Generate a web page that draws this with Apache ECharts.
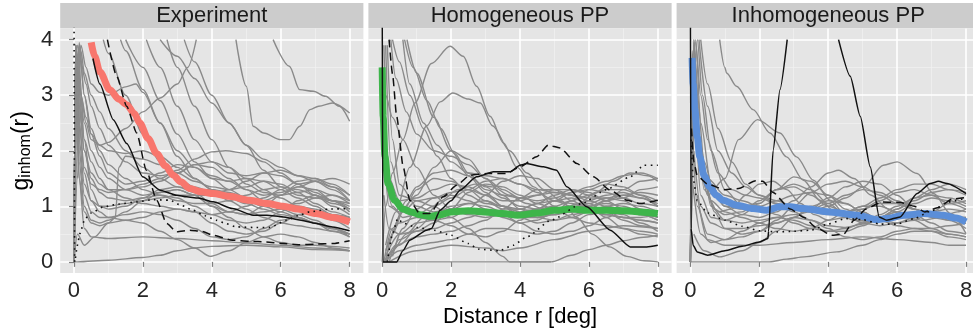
<!DOCTYPE html>
<html><head><meta charset="utf-8">
<script src="https://cdn.jsdelivr.net/npm/echarts@6/dist/echarts.min.js"></script>
<style>html,body{margin:0;padding:0;background:#fff}#c{width:973px;height:333px}</style>
</head><body><div id="c"></div>
<script>
// ---------------- labels & ticks ----------------
const panelTitles = ['Experiment', 'Homogeneous PP', 'Inhomogeneous PP'];
const xTitle = 'Distance r [deg]';
const xTicks = [0, 2, 4, 6, 8];
const xMinor = [1, 3, 5, 7];
const yTicks = [0, 1, 2, 3, 4];
const yMinor = [0.5, 1.5, 2.5, 3.5];
const meanColors = ['#F8766D', '#3DB54A', '#5B8ED8'];

// ---------------- data: flat [r, g, r, g, ...] ----------------
// Panel 1: Experiment
const expMean = [0.5,3.95, 0.6,3.7, 0.75,3.42, 1.04,3.1, 1.3,2.93, 1.53,2.83, 1.75,2.67, 1.91,2.5, 2.15,2.22, 2.4,1.95, 2.65,1.73, 2.88,1.56, 3.1,1.44, 3.36,1.32, 3.7,1.26, 4.04,1.23, 4.5,1.18, 5.1,1.11, 5.6,1.05, 6.07,1.0, 6.5,0.95, 7.03,0.87, 7.5,0.8, 8,0.72];
const expSolid = [0.55,3.66, 0.75,3.2, 1.14,2.56, 1.53,2.13, 2.0,1.53, 2.5,1.29, 2.98,1.2, 3.27,1.17, 3.6,1.15, 4.04,1.08, 4.6,0.96, 5.2,0.84, 5.6,0.84, 6.07,0.81, 6.5,0.76, 7.03,0.69, 7.5,0.63, 8,0.56];
const expDashed = [0.97,4.0, 1.24,3.34, 1.53,2.8, 1.82,2.32, 2.1,1.65, 2.4,1.11, 2.69,0.69, 2.98,0.54, 3.36,0.57, 3.7,0.55, 4.04,0.48, 4.6,0.39, 5.1,0.37, 5.58,0.36, 6.05,0.33, 6.55,0.31, 7.0,0.32, 7.5,0.33, 8,0.38];
const expDotted = [0,5, 0.02,0, 0.1,0.3, 0.17,0.51, 0.32,0.78, 0.5,0.88, 0.85,0.99, 1.3,1.04, 1.82,1.08, 2.3,1.12, 2.78,1.11, 3.1,1.02, 3.46,0.93, 3.8,0.83, 4.13,0.75, 4.4,0.69, 4.71,0.63, 5.2,0.62, 5.68,0.62, 6.17,0.75, 6.5,0.83, 6.84,0.9, 7.4,0.95, 8,0.96];
const expGray = [
  [0,0, 0.05,3.9, 0.15,3.2, 0.3,2.5, 0.5,2.0, 0.75,1.7, 1,1.5, 1.5,1.3, 2,1.2, 2.5,1.25, 3,1.3, 3.5,1.2, 4,1.0, 4.5,0.9, 5,0.85, 5.5,0.9, 6,0.95, 6.5,1.0, 7,0.95, 7.5,0.85, 8,0.8],
  [0,0, 0.08,2.5, 0.15,3.95, 0.3,3.0, 0.5,2.3, 0.75,1.9, 1,1.6, 1.5,1.4, 2,1.45, 2.5,1.6, 3,1.75, 3.5,1.7, 4,1.5, 4.5,1.3, 5,1.15, 5.5,1.1, 6,1.2, 6.5,1.4, 7,1.45, 7.5,1.3, 8,1.1],
  [0,0, 0.05,3.8, 0.15,2.8, 0.3,2.0, 0.5,1.5, 0.75,1.25, 1,1.15, 1.5,1.1, 2,1.15, 2.5,1.2, 3,1.15, 3.5,1.0, 4,0.85, 4.5,0.75, 5,0.7, 5.5,0.75, 6,0.9, 6.5,1.1, 7,1.2, 7.5,1.1, 8,0.95],
  [0,0, 0.1,3.9, 0.2,3.6, 0.35,3.2, 0.5,2.8, 0.75,2.4, 1,2.1, 1.5,1.8, 2,1.6, 2.5,1.55, 3,1.6, 3.5,1.75, 4,1.8, 4.5,1.7, 5,1.5, 5.5,1.3, 6,1.15, 6.5,1.0, 7,0.9, 7.5,0.85, 8,0.8],
  [0,0, 0.05,3.9, 0.15,3.5, 0.3,2.2, 0.5,1.3, 0.75,1.0, 1,0.95, 1.5,1.0, 2,1.15, 2.5,1.3, 3,1.35, 3.5,1.25, 4,1.05, 4.5,0.9, 5,0.85, 5.5,1.0, 6,1.2, 6.5,1.35, 7,1.3, 7.5,1.1, 8,0.9],
  [0,0, 0.1,2.0, 0.2,3.8, 0.3,3.4, 0.5,3.0, 0.75,2.7, 1,2.4, 1.5,2.0, 2,1.7, 2.5,1.5, 3,1.35, 3.5,1.3, 4,1.3, 4.5,1.25, 5,1.15, 5.5,1.05, 6,1.0, 6.5,1.05, 7,1.15, 7.5,1.2, 8,1.1],
  [0,0, 0.05,3.9, 0.15,2.5, 0.3,1.6, 0.5,1.1, 0.75,0.9, 1,0.8, 1.5,0.75, 2,0.8, 2.5,0.9, 3,0.95, 3.5,0.9, 4,0.7, 4.5,0.55, 5,0.5, 5.5,0.55, 6,0.7, 6.5,0.85, 7,0.9, 7.5,0.75, 8,0.6],
  [0,0, 0.1,3.7, 0.2,3.0, 0.35,2.6, 0.5,2.3, 0.75,2.1, 1,2.0, 1.5,1.95, 2,2.0, 2.5,1.9, 3,1.7, 3.5,1.5, 4,1.3, 4.5,1.1, 5,0.95, 5.5,0.8, 6,0.7, 6.5,0.65, 7,0.6, 7.5,0.55, 8,0.5],
  [0,0, 0.1,3.0, 0.2,3.9, 0.35,3.5, 0.5,3.2, 0.75,3.05, 1,3.0, 1.5,3.15, 1.8,3.2, 2,3.05, 2.5,2.5, 3,1.9, 3.5,1.5, 4,1.3, 4.5,1.2, 5,1.1, 5.5,1.0, 6,0.9, 6.5,0.8, 7,0.7, 7.5,0.6, 8,0.5],
  [0.85,4.0, 1,3.75, 1.5,3.0, 2,2.3, 2.5,1.8, 3,1.5, 3.5,1.35, 4,1.25, 4.5,1.15, 5,1.05, 5.5,0.95, 6,0.85, 6.5,0.8, 7,0.7, 7.5,0.6, 8,0.5],
  [1.35,4.0, 1.5,3.8, 2,3.1, 2.5,2.5, 3,2.0, 3.5,1.7, 4,1.55, 4.5,1.45, 5,1.3, 5.5,1.1, 6,0.95, 6.5,0.85, 7,0.75, 7.5,0.6, 8,0.45],
  [1.5,4.0, 2,3.5, 2.5,2.9, 3,2.3, 3.5,1.8, 4,1.5, 4.5,1.45, 5,1.5, 5.5,1.45, 6,1.3, 6.5,1.15, 7,1.0, 7.5,0.85, 8,0.7],
  [2.1,4.0, 2.5,3.5, 3,2.8, 3.5,2.2, 4,1.8, 4.5,1.6, 5,1.55, 5.5,1.6, 6,1.55, 6.5,1.4, 7,1.25, 7.5,1.1, 8,1.0],
  [2.5,4.0, 3,3.7, 3.5,3.3, 4,2.86, 4.5,2.5, 5,2.1, 5.5,1.65, 6,1.35, 6.5,1.2, 7,1.15, 7.5,1.1, 8,1.05],
  [2.7,4.0, 3,3.5, 3.5,2.8, 4,2.2, 4.5,1.7, 5,1.4, 5.5,1.25, 6,1.2, 6.5,1.25, 7,1.3, 7.5,1.2, 8,1.05],
  [3.2,4.0, 3.5,3.6, 4,3.0, 4.5,2.5, 5,2.1, 5.5,1.85, 6,1.7, 6.5,1.55, 7,1.45, 7.5,1.35, 8,1.2],
  [0,0, 0.1,1.5, 0.2,3.0, 0.35,2.5, 0.5,2.2, 0.75,2.1, 1,2.15, 1.5,2.4, 2,2.7, 2.5,2.95, 3,3.2, 3.3,3.5, 3.55,4.0],
  [0,0, 0.05,3.9, 0.15,2.5, 0.3,1.7, 0.5,1.4, 0.75,1.3, 1,1.25, 1.5,1.3, 2,1.4, 2.5,1.5, 3,1.65, 3.5,1.85, 4,1.98, 4.4,2.0, 5,1.95, 5.5,1.8, 6,1.6, 6.5,1.4, 7,1.2, 7.5,1.0, 8,0.85],
  [0,0, 0.05,3.8, 0.15,2.2, 0.3,1.4, 0.5,1.1, 0.75,1.0, 1,1.0, 1.5,1.05, 2,1.1, 2.5,1.15, 3,1.2, 3.5,1.2, 4,1.2, 4.5,1.3, 5,1.45, 5.5,1.6, 6,1.65, 6.5,1.55, 7,1.5, 7.5,1.35, 8,1.1],
  [0,0, 0.05,3.5, 0.15,2.8, 0.3,2.0, 0.5,1.6, 0.75,1.4, 1,1.3, 1.5,1.3, 2,1.35, 2.5,1.45, 3,1.6, 3.5,1.75, 4,1.7, 4.5,1.5, 5,1.3, 5.5,1.2, 6,1.25, 6.5,1.35, 7,1.45, 7.5,1.5, 8,1.4],
  [0,0, 0.05,3.9, 0.15,3.0, 0.3,2.2, 0.5,1.8, 0.75,1.5, 1,1.3, 1.5,1.15, 2,1.05, 2.5,1.0, 3,0.95, 3.5,0.9, 4,0.85, 4.5,0.9, 5,1.0, 5.5,1.15, 6,1.3, 6.5,1.45, 7,1.5, 7.5,1.4, 8,1.2],
  [0,0, 0.1,3.2, 0.15,3.9, 0.3,3.0, 0.5,2.4, 0.75,2.0, 1,1.75, 1.5,1.5, 2,1.3, 2.5,1.2, 3,1.1, 3.5,1.05, 4,1.05, 4.5,1.1, 5,1.2, 5.5,1.3, 6,1.35, 6.5,1.3, 7,1.2, 7.5,1.05, 8,0.95],
  [4.7,4.0, 5,3.16, 5.2,2.44, 5.5,2.32, 6,2.2, 6.25,2.2, 6.55,2.44, 6.85,2.74, 7.1,2.8, 7.5,2.86, 8,2.68],
  [5.78,4.0, 6.25,3.52, 6.55,3.1, 6.95,3.07, 7.3,2.98, 7.7,2.8, 8,2.53],
  [0,0, 0.1,0, 1,0.03, 2,0.08, 2.5,0.12, 3,0.2, 3.5,0.25, 4,0.28, 5,0.3, 6,0.27, 7,0.22, 8,0.2],
  [0,0, 0.05,3.9, 0.15,1.5, 0.3,0.6, 0.5,0.45, 1,0.42, 2,0.45, 3,0.42, 4,0.38, 5,0.34, 6,0.3, 7,0.25, 8,0.2],
  [0,0, 0.1,0.5, 0.3,0.3, 0.6,0.45, 1,0.7, 1.2,0.8, 1.3,1.7, 1.5,1.9, 2,1.85, 2.5,1.75, 3,1.6, 3.5,1.45, 4,1.35, 4.5,1.3, 5,1.35, 5.5,1.45, 6,1.4, 6.5,1.25, 7,1.05, 7.5,0.9, 8,0.8],
  [0,0, 0.05,3.9, 0.15,2.0, 0.3,1.2, 0.5,0.9, 0.75,0.8, 1,0.8, 1.5,0.85, 2,0.9, 2.5,0.85, 3,0.75, 3.5,0.6, 4,0.45, 4.5,0.4, 5,0.45, 5.5,0.6, 6,0.75, 6.5,0.8, 7,0.7, 7.5,0.55, 8,0.45],
  [0,0, 0.05,3.6, 0.15,1.8, 0.3,1.0, 0.5,0.75, 0.75,0.7, 1,0.75, 1.5,0.9, 2,1.1, 2.5,1.25, 3,1.3, 3.5,1.2, 4,1.0, 4.5,0.8, 5,0.6, 5.5,0.45, 6,0.35, 6.5,0.3, 7,0.3, 7.5,0.28, 8,0.25],
  [0,0, 0.05,3.0, 0.15,1.5, 0.3,0.9, 0.5,0.7, 0.75,0.65, 1,0.7, 1.5,0.75, 2,0.7, 2.5,0.55, 3,0.4, 3.5,0.25, 3.95,0.1, 4.5,0.2, 5,0.35, 5.5,0.45, 6,0.5, 6.5,0.45, 7,0.35, 7.5,0.25, 8,0.2]
];

// Panel 2: Homogeneous PP
const homMean = [0,3.5, 0.03,2.6, 0.08,1.9, 0.17,1.41, 0.36,1.11, 0.6,0.95, 0.84,0.9, 1.1,0.85, 1.42,0.82, 1.7,0.85, 2.0,0.9, 2.5,0.92, 2.97,0.9, 3.5,0.87, 3.94,0.84, 4.5,0.88, 5.01,0.93, 5.5,0.95, 5.98,0.93, 6.5,0.93, 7.04,0.92, 7.5,0.9, 8,0.87];
const homSolid = [0,5, 0.02,0, 0.42,0, 0.6,0.2, 0.8,0.39, 1.29,0.57, 1.43,0.6, 1.68,0.93, 2.0,1.1, 2.26,1.29, 2.74,1.53, 3.23,1.62, 3.71,1.62, 4.0,1.74, 4.19,1.77, 4.68,1.71, 5.06,1.65, 5.36,1.35, 5.94,0.99, 6.62,0.57, 7.2,0.27, 7.68,0.27, 8,0.3];
const homDashed = [0.2,4.0, 0.3,3.38, 0.42,2.62, 0.61,1.71, 0.8,1.11, 1.09,0.87, 1.38,0.87, 1.77,1.17, 2.16,1.38, 2.55,1.56, 3.03,1.59, 3.61,1.59, 4.0,1.71, 4.48,1.89, 4.82,2.1, 5.16,2.05, 5.65,1.77, 6.13,1.53, 6.62,1.29, 7.1,1.11, 7.49,1.05, 8,1.11];
const homDotted = [0.15,0, 0.3,0.5, 0.45,0.78, 0.6,0.7, 1,0.62, 1.5,0.57, 2,0.48, 2.5,0.33, 2.8,0.23, 3.4,0.2, 3.8,0.3, 4.2,0.45, 4.9,0.75, 5.8,1.05, 6.5,1.3, 7.2,1.53, 7.6,1.74, 8,1.74];
const homGray = [
  [0,0, 0.1,1.0, 0.3,1.6, 0.6,2.2, 0.95,2.86, 1.43,3.57, 1.97,3.88, 2.35,3.7, 2.74,3.16, 3.13,2.62, 3.52,2.14, 3.9,1.71, 4.4,1.35, 5.0,1.0, 5.5,0.8, 6,0.7, 6.5,0.65, 7,0.6, 7.5,0.55, 8,0.5],
  [0.1,0.3, 0.4,0.9, 0.8,1.7, 1.3,2.45, 1.68,2.88, 2.05,3.04, 2.5,2.93, 2.85,2.86, 3.2,2.45, 3.7,2.0, 4.2,1.6, 4.7,1.3, 5.2,1.1, 5.65,0.8, 6.1,0.5, 6.6,0.27, 7.1,0.1, 7.6,0.02, 8,0],
  [0.05,2.0, 0.2,1.0, 0.5,0.9, 1,1.2, 1.5,1.7, 2,2.0, 2.5,1.85, 3,1.5, 3.5,1.2, 4,0.95, 4.5,0.8, 5,0.75, 5.5,0.8, 6,0.9, 6.5,1.0, 7,1.05, 7.5,1.0, 8,0.9],
  [0.3,4.0, 0.5,3.6, 0.8,3.0, 1.2,2.4, 1.6,1.9, 2,1.5, 2.5,1.2, 3,1.05, 3.5,1.0, 4,0.95, 4.5,0.9, 5,0.85, 5.5,0.9, 6,1.0, 6.5,1.05, 7,1.0, 7.5,0.9, 8,0.8],
  [0.65,4.0, 0.9,3.5, 1.3,2.9, 1.7,2.4, 2.1,1.95, 2.5,1.6, 3,1.3, 3.5,1.2, 4,1.15, 4.5,1.2, 5,1.25, 5.5,1.2, 6,1.1, 6.5,1.0, 7,0.95, 7.5,0.85, 8,0.75],
  [0.72,4.0, 1.0,3.4, 1.5,2.6, 2,2.0, 2.5,1.55, 3,1.25, 3.5,1.0, 4,0.85, 4.5,0.8, 5,0.85, 5.5,0.95, 6,1.1, 6.5,1.2, 7,1.25, 7.5,1.15, 8,1.0],
  [0.25,4.0, 0.4,3.3, 0.7,2.7, 1.0,2.3, 1.5,2.0, 2,1.9, 2.5,1.75, 3,1.5, 3.5,1.3, 4,1.15, 4.5,1.1, 5,1.15, 5.5,1.25, 6,1.3, 6.5,1.25, 7,1.15, 7.5,1.05, 8,1.0],
  [0.05,3.9, 0.1,3.0, 0.3,2.6, 0.6,2.2, 1,1.7, 1.5,1.2, 2,0.95, 2.5,0.85, 3,0.8, 3.5,0.85, 4,0.95, 4.5,1.05, 5,1.1, 5.5,1.05, 6,0.95, 6.5,0.85, 7,0.8, 7.5,0.75, 8,0.7],
  [0.6,4.0, 0.8,3.2, 1.2,2.5, 1.6,2.1, 2.0,1.8, 2.5,1.6, 3,1.55, 3.5,1.5, 4,1.4, 4.5,1.3, 5,1.25, 5.5,1.2, 6,1.15, 6.5,1.15, 7,1.2, 7.5,1.25, 8,1.2],
  [0,0, 4.9,0, 5.5,0.12, 6,0.22, 6.5,0.3, 7,0.38, 7.5,0.44, 8,0.48],
  [0.1,0, 0.3,0.5, 0.6,0.9, 1,1.1, 1.5,1.0, 2,0.8, 2.5,0.6, 3,0.35, 3.5,0.1, 3.7,0, 4.9,0],
  [0.2,0, 0.5,0.4, 1,0.55, 1.5,0.6, 2,0.7, 2.5,0.8, 3,0.9, 3.5,0.85, 4,0.7, 4.5,0.55, 5,0.5, 5.5,0.55, 6,0.65, 6.5,0.8, 7,0.9, 7.5,0.85, 8,0.75],
  [0.1,0.2, 0.5,0.7, 1,0.8, 1.5,0.75, 2,0.65, 2.5,0.5, 3,0.45, 3.5,0.55, 4,0.75, 4.5,0.95, 5,1.1, 5.5,1.15, 6,1.05, 6.5,0.9, 7,0.75, 7.5,0.65, 8,0.6],
  [0.3,0.1, 0.6,0.6, 1,0.95, 1.5,1.15, 2,1.2, 2.5,1.1, 3,0.95, 3.5,0.8, 4,0.7, 4.5,0.75, 5,0.9, 5.5,1.1, 6,1.3, 6.5,1.4, 7,1.35, 7.5,1.2, 8,1.0],
  [0.05,1.2, 0.2,0.6, 0.5,0.5, 1,0.55, 1.5,0.7, 2,0.95, 2.5,1.25, 3,1.4, 3.5,1.35, 4,1.2, 4.5,1.05, 5,0.95, 5.5,0.9, 6,0.95, 6.5,1.1, 7,1.3, 7.5,1.45, 8,1.5],
  [0.1,0, 0.4,0.3, 1,0.45, 1.5,0.5, 2,0.55, 2.5,0.65, 3,0.75, 3.5,0.95, 4,1.15, 4.5,1.3, 5,1.3, 5.5,1.2, 6,1.0, 6.5,0.8, 7,0.6, 7.5,0.5, 8,0.45],
  [0.05,0, 0.3,0.2, 0.7,0.5, 1.2,0.8, 1.7,1.1, 2.2,1.3, 2.7,1.4, 3.2,1.35, 3.7,1.2, 4.2,1.05, 4.7,0.95, 5.2,0.95, 5.7,1.05, 6.2,1.25, 6.7,1.45, 7.2,1.6, 7.7,1.55, 8,1.45],
  [0.1,0, 0.5,0.2, 1,0.3, 1.5,0.35, 2,0.4, 2.5,0.5, 3,0.6, 3.5,0.6, 4,0.55, 4.5,0.5, 5,0.55, 5.5,0.7, 6,0.85, 6.5,0.9, 7,0.85, 7.5,0.7, 8,0.55],
  [0.2,0, 1,0.2, 2,0.3, 3,0.25, 3.5,0.2, 4,0.25, 5,0.4, 6,0.55, 7,0.65, 8,0.6],
  [0.15,3.9, 0.3,2.2, 0.5,1.4, 1,1.0, 1.5,0.9, 2,0.95, 2.5,1.05, 3,1.1, 3.5,1.0, 4,0.9, 4.5,0.95, 5,1.1, 5.5,1.25, 6,1.35, 6.5,1.45, 7,1.55, 7.5,1.6, 8,1.5],
  [0.05,3.0, 0.2,1.5, 0.5,1.1, 1,1.15, 1.5,1.3, 2,1.4, 2.5,1.35, 3,1.2, 3.5,1.1, 4,1.1, 4.5,1.2, 5,1.3, 5.5,1.3, 6,1.2, 6.5,1.1, 7,1.15, 7.5,1.3, 8,1.35],
  [0.1,1.5, 0.3,1.0, 0.6,0.8, 1,0.85, 1.5,1.0, 2,1.15, 2.5,1.3, 3,1.45, 3.5,1.5, 4,1.4, 4.5,1.25, 5,1.1, 5.5,1.0, 6,1.0, 6.5,1.1, 7,1.2, 7.5,1.15, 8,1.05],
  [0.1,3.9, 0.25,1.8, 0.5,1.2, 1,1.1, 1.5,1.15, 2,1.25, 2.5,1.3, 3,1.2, 3.5,1.0, 4,0.8, 4.5,0.7, 5,0.75, 5.5,0.85, 6,0.9, 6.5,0.85, 7,0.8, 7.5,0.8, 8,0.85],
  [0.2,0.3, 0.6,0.9, 1,1.3, 1.5,1.5, 2,1.45, 2.5,1.3, 3,1.1, 3.5,0.95, 4,0.95, 4.5,1.05, 5,1.2, 5.5,1.3, 6,1.25, 6.5,1.1, 7,0.95, 7.5,0.85, 8,0.8],
  [0.1,0.1, 0.5,0.5, 1,0.7, 1.5,0.75, 2,0.8, 2.5,0.95, 3,1.2, 3.5,1.45, 4,1.55, 4.5,1.5, 5,1.3, 5.5,1.1, 6,0.95, 6.5,0.85, 7,0.8, 7.5,0.75, 8,0.7],
  [0.05,0, 0.3,0.6, 0.7,1.1, 1,1.35, 1.5,1.6, 2,1.65, 2.5,1.55, 3,1.35, 3.5,1.15, 4,1.0, 4.5,0.95, 5,1.0, 5.5,1.1, 6,1.2, 6.5,1.3, 7,1.3, 7.5,1.2, 8,1.1],
  [0.1,0, 0.5,0.3, 1,0.6, 1.5,0.85, 2,1.0, 2.5,1.05, 3,1.0, 3.5,0.9, 4,0.8, 4.5,0.8, 5,0.85, 5.5,0.95, 6,1.05, 6.5,1.15, 7,1.1, 7.5,0.95, 8,0.8]
];

// Panel 3: Inhomogeneous PP
const inhMean = [0.05,3.67, 0.08,3.2, 0.13,2.74, 0.2,2.25, 0.27,1.89, 0.4,1.55, 0.56,1.35, 0.75,1.2, 0.95,1.11, 1.34,1.02, 1.82,0.96, 2.21,0.93, 2.6,0.99, 2.9,0.99, 3.28,0.96, 4.05,0.9, 4.83,0.84, 5.41,0.76, 5.7,0.78, 6.19,0.84, 6.77,0.87, 7.35,0.84, 7.7,0.79, 8,0.72];
const inhSolid = [0,5, 0.02,0.6, 0.08,0.3, 0.2,0.18, 0.5,0.12, 1,0.2, 1.5,0.28, 2,0.36, 2.25,0.42, 2.27,0.55, 2.4,2.0, 2.6,3.1, 2.81,4.0, 3.5,null, 4.3,4.0, 4.64,3.34, 4.93,2.62, 5.22,1.71, 5.48,0.81, 5.7,0.75, 6.09,0.81, 6.58,1.23, 6.96,1.41, 7.2,1.45, 7.45,1.41, 8,1.23];
const inhDashed = [0.03,2.4, 0.1,1.8, 0.2,1.55, 0.5,1.4, 1.0,1.3, 1.4,1.32, 1.9,1.46, 2.1,1.45, 2.4,1.25, 2.9,0.95, 3.3,0.8, 3.65,0.62, 4.1,0.48, 4.45,0.5, 4.75,0.75, 5.1,0.95, 5.55,1.08, 6.1,1.07, 6.5,1.0, 6.8,0.9, 7.2,0.98, 7.6,1.13, 8,1.16];
const inhDotted = [0.02,2.2, 0.08,1.5, 0.2,1.1, 0.5,0.88, 1.0,0.75, 1.5,0.64, 2.0,0.56, 2.5,0.54, 3.0,0.55, 3.5,0.57, 4.0,0.68, 4.5,0.78, 5.0,0.76, 5.5,0.68, 6.0,0.68, 6.5,0.78, 7.0,0.92, 7.5,1.08, 8,1.15];
const inhGray = [
  [0.85,4.0, 1.0,3.5, 1.05,3.4, 1.34,3.16, 1.82,2.74, 2.31,2.32, 2.79,1.89, 3.28,1.47, 3.76,1.11, 4.25,0.87, 4.75,0.75, 5.25,0.72, 5.75,0.75, 6.25,0.8, 6.75,0.85, 7.25,0.85, 7.75,0.8, 8,0.78],
  [0,0, 0.05,3.8, 0.2,2.0, 0.5,1.2, 1.0,1.5, 1.4,2.2, 1.95,2.56, 2.6,2.32, 3.08,1.89, 3.57,1.47, 4.05,1.11, 4.5,0.85, 5,0.7, 5.5,0.65, 6,0.7, 6.5,0.8, 7,0.9, 7.5,0.95, 8,0.9],
  [0,0, 0.1,3.9, 0.3,2.0, 0.6,1.0, 1,0.75, 1.5,0.7, 2,0.75, 2.5,0.8, 3,0.85, 3.5,0.9, 4,1.0, 4.5,1.15, 5.02,1.35, 5.6,1.74, 6.0,1.8, 6.58,1.59, 7.06,1.23, 7.55,0.87, 8,0.51],
  [0,0, 2.3,0, 2.8,0.05, 3.3,0.09, 4.25,0.18, 5,0.3, 5.5,0.4, 6,0.5, 6.5,0.55, 7,0.55, 7.5,0.5, 8,0.45],
  [0.1,0.5, 0.4,0.2, 0.85,0.09, 1.5,0.2, 2,0.35, 2.5,0.55, 3,0.8, 3.5,1.0, 4,1.1, 4.5,1.05, 5,0.9, 5.5,0.75, 6,0.65, 6.5,0.6, 7,0.6, 7.5,0.65, 8,0.7],
  [0,0, 0.15,4.0, 0.3,2.5, 0.6,1.4, 1,1.0, 1.5,0.85, 2,0.8, 2.5,0.9, 3,1.1, 3.5,1.35, 4,1.6, 4.3,1.65, 4.75,1.5, 5.25,1.2, 5.75,0.95, 6.25,0.8, 6.75,0.75, 7.25,0.8, 7.75,0.9, 8,0.95],
  [0,0, 0.2,4.0, 0.35,3.0, 0.6,2.0, 1,1.3, 1.5,1.0, 2,1.05, 2.5,1.3, 3.0,1.53, 3.5,1.45, 4,1.2, 4.5,0.95, 5,0.8, 5.5,0.8, 6,0.9, 6.5,1.05, 7,1.15, 7.5,1.1, 8,1.0],
  [0,0, 0.1,4.0, 0.2,3.0, 0.4,1.8, 0.7,1.2, 1,1.0, 1.5,0.95, 2,1.0, 2.5,1.1, 3,1.2, 3.5,1.25, 4,1.2, 4.5,1.05, 5,0.9, 5.5,0.75, 6,0.7, 6.5,0.75, 7,0.9, 7.5,1.05, 8,1.1],
  [0.25,4.0, 0.5,2.8, 0.8,2.0, 1.2,1.6, 1.6,1.35, 2,1.2, 2.5,1.1, 3,1.0, 3.5,0.9, 4,0.85, 4.5,0.9, 5,1.0, 5.5,1.15, 6,1.3, 6.5,1.4, 7,1.4, 7.5,1.3, 8,1.2],
  [0.3,4.0, 0.5,3.2, 0.8,2.4, 1.2,1.8, 1.6,1.4, 2,1.2, 2.5,1.05, 3,0.9, 3.5,0.75, 4,0.65, 4.5,0.62, 5,0.68, 5.5,0.8, 6,0.95, 6.5,1.1, 7,1.25, 7.5,1.3, 8,1.25],
  [0.05,2.5, 0.2,1.0, 0.5,0.5, 1,0.4, 1.5,0.45, 2,0.55, 2.5,0.7, 3,0.8, 3.5,0.75, 4,0.6, 4.5,0.45, 5,0.4, 5.5,0.45, 6,0.55, 6.5,0.6, 7,0.55, 7.5,0.45, 8,0.4],
  [0,0, 0.1,3.0, 0.3,1.2, 0.6,0.8, 1,0.75, 1.5,0.85, 2,1.05, 2.5,1.3, 3,1.4, 3.5,1.3, 4,1.05, 4.5,0.85, 5,0.75, 5.5,0.8, 6,0.95, 6.5,1.15, 7,1.3, 7.5,1.4, 8,1.3],
  [0,0, 0.15,3.5, 0.3,1.8, 0.6,1.1, 1,0.9, 1.5,0.8, 2,0.7, 2.5,0.6, 3,0.55, 3.5,0.6, 4,0.75, 4.5,0.9, 5,1.0, 5.5,1.0, 6,0.9, 6.5,0.75, 7,0.6, 7.5,0.5, 8,0.45],
  [0.2,2.5, 0.4,1.5, 0.7,0.9, 1,0.6, 1.5,0.5, 2,0.55, 2.5,0.75, 3,1.0, 3.5,1.25, 4,1.4, 4.5,1.45, 5,1.35, 5.5,1.2, 6,1.05, 6.5,0.95, 7,0.85, 7.5,0.75, 8,0.6],
  [0.1,2.0, 0.3,1.0, 0.6,0.7, 1,0.6, 1.5,0.6, 2,0.65, 2.5,0.7, 3,0.8, 3.5,0.95, 4,1.15, 4.5,1.35, 5,1.45, 5.5,1.4, 6,1.2, 6.5,0.95, 7,0.8, 7.5,0.75, 8,0.75],
  [0,0, 0.1,4.0, 0.25,2.2, 0.5,1.5, 1,1.2, 1.5,1.1, 2,1.0, 2.5,0.85, 3,0.7, 3.5,0.6, 4,0.55, 4.5,0.6, 5,0.7, 5.5,0.85, 6,1.0, 6.5,1.15, 7,1.2, 7.5,1.15, 8,1.05],
  [0.2,1.2, 0.5,0.4, 1,0.3, 2,0.3, 3,0.35, 4,0.4, 5,0.45, 6,0.4, 7,0.35, 7.5,0.3, 8,0.3],
  [0,0, 0.15,2.8, 0.4,1.3, 0.8,0.9, 1.2,0.95, 1.6,1.2, 2,1.4, 2.4,1.45, 2.8,1.3, 3.2,1.05, 3.6,0.85, 4,0.75, 4.5,0.8, 5,0.95, 5.5,1.05, 6,1.05, 6.5,0.95, 7,0.85, 7.5,0.8, 8,0.8],
  [0,0, 0.1,3.95, 0.2,2.6, 0.4,1.4, 0.7,0.95, 1,0.85, 1.5,0.9, 2,1.1, 2.5,1.3, 3,1.35, 3.5,1.2, 4,1.0, 4.5,0.9, 5,0.95, 5.5,1.1, 6,1.25, 6.5,1.3, 7,1.2, 7.5,1.05, 8,0.95],
  [0,0, 0.15,3.95, 0.3,3.0, 0.5,2.2, 0.8,1.6, 1.2,1.3, 1.6,1.2, 2,1.15, 2.5,1.05, 3,0.95, 3.5,0.95, 4,1.05, 4.5,1.2, 5,1.3, 5.5,1.25, 6,1.1, 6.5,0.95, 7,0.85, 7.5,0.8, 8,0.8],
  [0.05,1.5, 0.3,0.5, 0.6,0.35, 1,0.4, 1.5,0.55, 2,0.7, 2.5,0.8, 3,0.75, 3.5,0.65, 4,0.55, 4.5,0.55, 5,0.65, 5.5,0.8, 6,0.9, 6.5,0.85, 7,0.7, 7.5,0.55, 8,0.5]
];

// ---------------- build ----------------
const panels = [
  { gray: expGray, mean: expMean, solid: expSolid, dashed: expDashed, dotted: expDotted },
  { gray: homGray, mean: homMean, solid: homSolid, dashed: homDashed, dotted: homDotted },
  { gray: inhGray, mean: inhMean, solid: inhSolid, dashed: inhDashed, dotted: inhDotted }
];
function pts(flat) {
  const out = [];
  for (let i = 0; i < flat.length; i += 2) out.push([flat[i], flat[i + 1] === null ? '-' : flat[i + 1]]);
  return out;
}
const FONT = 'Liberation Sans, Arial, Helvetica, sans-serif';
const GRID_LEFT0 = 60.2, GRID_STEP = 308.2, GRID_W = 303.2, GRID_TOP = 28.5, GRID_H = 244.5;
const grids = [], xAxes = [], yAxes = [], series = [], graphics = [];
panels.forEach((p, i) => {
  const left = GRID_LEFT0 + i * GRID_STEP;
  grids.push({ left: left, top: GRID_TOP, width: GRID_W, height: GRID_H, show: true,
    backgroundColor: '#E5E5E5', borderWidth: 0, containLabel: false, outerBoundsMode: 'none' });
  xAxes.push({ type: 'value', gridIndex: i, min: -0.4, max: 8.4,
    axisLine: { show: false },
    axisTick: { show: true, customValues: xTicks, length: 5, lineStyle: { color: '#7F7F7F', width: 1.2 } },
    axisLabel: { show: true, customValues: xTicks, fontSize: 22, fontFamily: FONT, color: '#262626', margin: 7 },
    splitLine: { show: true, lineStyle: { color: '#FFFFFF', width: 1.6 } }, z: 1 });
  xAxes.push({ type: 'value', gridIndex: i, min: -0.4, max: 8.4,
    axisLine: { show: false }, axisTick: { show: false, customValues: xMinor },
    axisLabel: { show: false, customValues: xMinor },
    splitLine: { show: true, lineStyle: { color: '#F2F2F2', width: 0.7 } }, z: 0 });
  yAxes.push(Object.assign({ type: 'value', gridIndex: i, min: -0.2, max: 4.2,
    axisLine: { show: false },
    axisTick: { show: i === 0, customValues: yTicks, length: 5, lineStyle: { color: '#7F7F7F', width: 1.2 } },
    axisLabel: { show: i === 0, customValues: yTicks, fontSize: 22, fontFamily: FONT, color: '#262626', margin: 7 },
    splitLine: { show: true, lineStyle: { color: '#FFFFFF', width: 1.6 } }, z: 1 },
    i === 0 ? { name: '{g|g}{s|inhom}{g|(r)}', nameLocation: 'middle', nameGap: 27, nameRotate: 90,
      nameTextStyle: { fontFamily: FONT, color: '#000', rich: {
        g: { fontSize: 23, lineHeight: 31, verticalAlign: 'bottom', fontFamily: FONT, color: '#000' },
        s: { fontSize: 16, lineHeight: 15, verticalAlign: 'bottom', fontFamily: FONT, color: '#000' } } } } : {}));
  yAxes.push({ type: 'value', gridIndex: i, min: -0.2, max: 4.2,
    axisLine: { show: false }, axisTick: { show: false, customValues: yMinor },
    axisLabel: { show: false, customValues: yMinor },
    splitLine: { show: true, lineStyle: { color: '#F2F2F2', width: 0.7 } }, z: 0 });

  const base = { type: 'line', xAxisIndex: 2 * i, yAxisIndex: 2 * i, symbol: 'none', showSymbol: false,
    smooth: 0.3, smoothMonotone: 'x', silent: true, clip: true, connectNulls: false, animation: false };
  p.gray.forEach(l => series.push(Object.assign({}, base, { data: pts(l), z: 2,
    lineStyle: { color: '#8A8A8A', width: 1.4 } })));
  series.push(Object.assign({}, base, { data: pts(p.mean), z: 3,
    lineStyle: { color: meanColors[i], width: 7, cap: 'butt', join: 'round' } }));
  series.push(Object.assign({}, base, { data: pts(p.solid), z: 4, smooth: 0.2,
    lineStyle: { color: '#111111', width: 1.5 } }));
  series.push(Object.assign({}, base, { data: pts(p.dashed), z: 4, smooth: 0.2,
    lineStyle: { color: '#111111', width: 1.5, type: [8, 5] } }));
  series.push(Object.assign({}, base, { data: pts(p.dotted), z: 4, smooth: 0.2,
    lineStyle: { color: '#111111', width: 1.6, type: [1.6, 4.4] } }));

  graphics.push({ type: 'rect', left: left, top: 3, shape: { x: 0, y: 0, width: GRID_W, height: 25.3 },
    style: { fill: '#CCCCCC' }, silent: true, z: 0 });
  graphics.push({ type: 'text', x: left + GRID_W / 2, y: 16, silent: true, z: 1,
    style: { text: panelTitles[i], font: '22px ' + FONT, fill: '#1A1A1A', textAlign: 'center', textVerticalAlign: 'middle' } });
});
graphics.push({ type: 'text', x: 520, y: 317, silent: true,
  style: { text: xTitle, font: '22px ' + FONT, fill: '#000', textAlign: 'center', textVerticalAlign: 'middle' } });

const chart = echarts.init(document.getElementById('c'), null, { renderer: 'canvas' });
chart.setOption({
  animation: false,
  backgroundColor: '#FFFFFF',
  grid: grids, xAxis: xAxes, yAxis: yAxes, series: series,
  graphic: { elements: graphics }
});
</script>
</body></html>
